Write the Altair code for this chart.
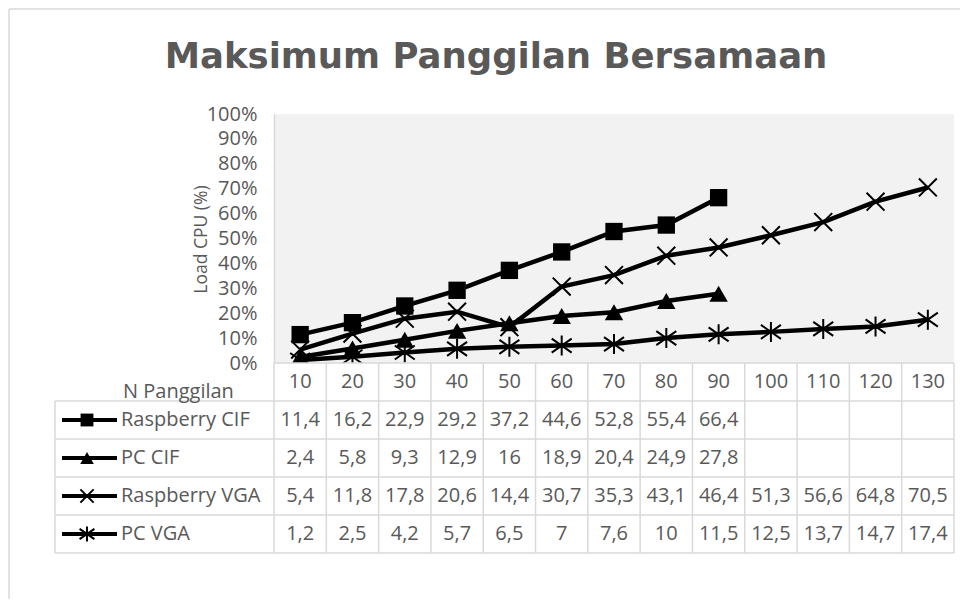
import altair as alt
import pandas as pd

# ---------------- data ----------------
cats = ["10", "20", "30", "40", "50", "60", "70", "80", "90", "100", "110", "120", "130"]
series_names = ["Raspberry CIF", "PC CIF", "Raspberry VGA", "PC VGA"]
rasp_cif = [11.4, 16.2, 22.9, 29.2, 37.2, 44.6, 52.8, 55.4, 66.4]
pc_cif = [2.4, 5.8, 9.3, 12.9, 16, 18.9, 20.4, 24.9, 27.8]
rasp_vga = [5.4, 11.8, 17.8, 20.6, 14.4, 30.7, 35.3, 43.1, 46.4, 51.3, 56.6, 64.8, 70.5]
pc_vga = [1.2, 2.5, 4.2, 5.7, 6.5, 7, 7.6, 10, 11.5, 12.5, 13.7, 14.7, 17.4]
y_ticks = [0, 10, 20, 30, 40, 50, 60, 70, 80, 90, 100]
title_text = "Maksimum Panggilan Bersamaan"
y_title = "Load CPU (%)"
x_title = "N Panggilan"

all_values = [rasp_cif, pc_cif, rasp_vga, pc_vga]
records = []
for s, vals in zip(series_names, all_values):
    for c, v in zip(cats, vals):
        records.append({"series": s, "n": c, "value": v,
                        "label": f"{v:g}".replace(".", ",")})
df = pd.DataFrame(records)
hdr_df = pd.DataFrame({"n": cats, "row": ["hdr"] * len(cats)})
rows_df = pd.DataFrame({"row": series_names})
one = alt.Data(values=[{}])

# ---------------- styles ----------------
TXT = "#595959"
GRID = "#d9d9d9"
FONT = "Open Sans"
FS = 20
PW = 680
PH = 249
RH = 38
TH = RH * 5
row_domain = ["hdr"] + series_names

XPATH = "M-1,-1L1,1M-1,1L1,-1"
ASTPATH = "M0,-1L0,1M-1,-0.7L1,0.7M-1,0.7L1,-0.7"
marker_specs = {
    "Raspberry CIF": dict(shape="square", filled=True, size=300, strokeWidth=1),
    "PC CIF": dict(shape="triangle-up", filled=True, size=340, strokeWidth=1),
    "Raspberry VGA": dict(shape=XPATH, filled=False, size=320, strokeWidth=2),
    "PC VGA": dict(shape=ASTPATH, filled=False, size=400, strokeWidth=2),
}

# ---------------- top plot ----------------
x_line = alt.X("n:N", sort=cats, scale=alt.Scale(domain=cats, padding=0.5), axis=None)
y_line = alt.Y(
    "value:Q",
    scale=alt.Scale(domain=[0, 100], nice=False),
    axis=alt.Axis(
        values=y_ticks, labelExpr="datum.value + '%'", ticks=False, grid=False,
        domainColor=GRID, domainWidth=1.5,
        labelFontSize=FS, labelColor=TXT, labelFont=FONT, labelPadding=17,
        title=y_title, titleFont=FONT, titleFontSize=17.5, titleFontWeight="normal",
        titleColor=TXT, titleX=-73, titleY=125, titleAngle=270,
        titleAlign="center", titleBaseline="middle",
    ),
)

lines = alt.Chart(df).mark_line(color="black", strokeWidth=4.5).encode(
    x=x_line, y=y_line, detail="series:N"
)

marker_layers = []
for s in series_names:
    sp = marker_specs[s]
    marker_layers.append(
        alt.Chart(df).transform_filter(alt.datum.series == s).mark_point(
            shape=sp["shape"], filled=sp["filled"], size=sp["size"],
            color="black", opacity=1, strokeWidth=sp["strokeWidth"],
        ).encode(x=x_line, y=y_line)
    )

title_mark = alt.Chart(one).mark_text(
    text=title_text, font="DejaVu Sans", fontSize=35.5, fontWeight="bold",
    color=TXT, align="center", baseline="alphabetic",
).encode(x=alt.value(222), y=alt.value(-46))

frame_top = alt.Chart(one).mark_rule(color=GRID, strokeWidth=1.5).encode(
    x=alt.value(-265), x2=alt.value(686), y=alt.value(-105)
)
frame_left = alt.Chart(one).mark_rule(color=GRID, strokeWidth=1.5).encode(
    x=alt.value(-265), y=alt.value(-105), y2=alt.value(485)
)

top = alt.layer(frame_top, frame_left, title_mark, lines, *marker_layers).properties(
    width=PW, height=PH, view=alt.ViewBackground(fill="#f2f2f2", strokeWidth=0)
)

# ---------------- data table ----------------
x_scale_tab = alt.Scale(domain=cats, type="band", paddingInner=0, paddingOuter=0)
y_scale_tab = alt.Scale(domain=row_domain, type="band", paddingInner=0, paddingOuter=0)

def xt(pos):
    return alt.X("n:N", scale=x_scale_tab, axis=None, bandPosition=pos)

def yt(field, pos):
    return alt.Y(field, scale=y_scale_tab, axis=None, bandPosition=pos)

hdr_text = alt.Chart(hdr_df).mark_text(font=FONT, fontSize=FS, color=TXT).encode(
    x=xt(0.5), y=yt("row:N", 0.5), text="n:N"
)
val_text = alt.Chart(df).mark_text(font=FONT, fontSize=FS, color=TXT).encode(
    x=xt(0.5), y=yt("series:N", 0.5), text="label:N"
)
vgrid = alt.Chart(hdr_df).mark_rule(color=GRID, strokeWidth=1.5).encode(
    x=xt(0), y=alt.value(0), y2=alt.value(TH)
)
vright = alt.Chart(one).mark_rule(color=GRID, strokeWidth=1.5).encode(
    x=alt.value(PW), y=alt.value(0), y2=alt.value(TH)
)
hgrid = alt.Chart(rows_df).mark_rule(color=GRID, strokeWidth=1.5).encode(
    y=yt("row:N", 0), x=alt.value(-219), x2=alt.value(PW)
)
htop = alt.Chart(one).mark_rule(color=GRID, strokeWidth=1.5).encode(
    y=alt.value(0), x=alt.value(0), x2=alt.value(PW)
)
hbottom = alt.Chart(one).mark_rule(color=GRID, strokeWidth=1.5).encode(
    y=alt.value(TH), x=alt.value(-219), x2=alt.value(PW)
)
vleft = alt.Chart(one).mark_rule(color=GRID, strokeWidth=1.5).encode(
    x=alt.value(-219), y=alt.value(RH), y2=alt.value(TH)
)
leg_text = alt.Chart(rows_df).mark_text(
    font=FONT, fontSize=FS, color=TXT, align="left"
).encode(x=alt.value(-153), y=yt("row:N", 0.5), text="row:N")
leg_lines = alt.Chart(rows_df).mark_rule(color="black", strokeWidth=4).encode(
    x=alt.value(-212), x2=alt.value(-157), y=yt("row:N", 0.5)
)
leg_markers = []
for s in series_names:
    sp = marker_specs[s]
    leg_markers.append(
        alt.Chart(rows_df).transform_filter(alt.datum.row == s).mark_point(
            shape=sp["shape"], filled=sp["filled"], size=sp["size"] * 0.55,
            color="black", opacity=1, strokeWidth=sp["strokeWidth"],
        ).encode(x=alt.value(-187), y=yt("row:N", 0.5))
    )
xtitle = alt.Chart(one).mark_text(
    text=x_title, font=FONT, fontSize=FS, color=TXT, align="left", baseline="alphabetic"
).encode(x=alt.value(-151), y=alt.value(35))

table = alt.layer(
    vgrid, vright, hgrid, htop, hbottom, vleft,
    hdr_text, val_text, leg_lines, *leg_markers, leg_text, xtitle,
).properties(width=PW, height=TH, view=alt.ViewBackground(fill="white", strokeWidth=0))

chart = alt.vconcat(top, table, spacing=0, bounds="flush").properties(
    padding=0, background="white"
).configure_view(strokeWidth=0)

chart.save("out.html", embed_options={"renderer": "svg", "actions": False})
